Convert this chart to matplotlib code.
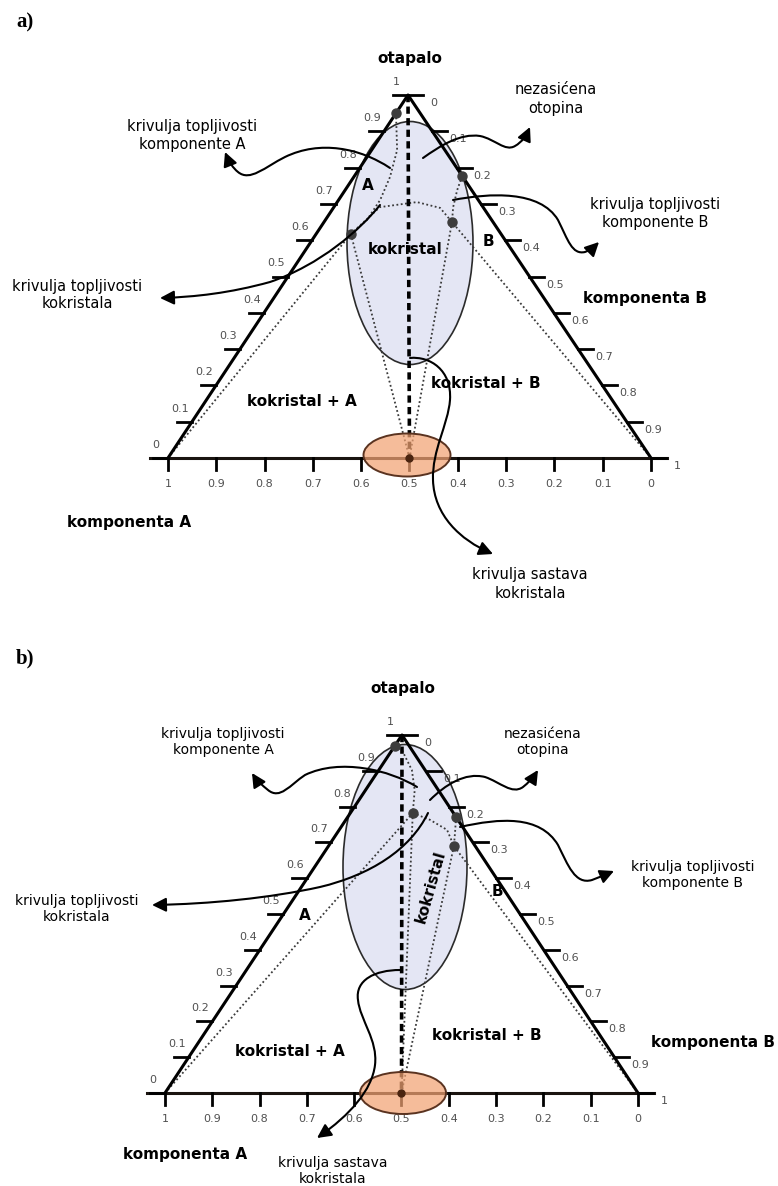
import numpy as np
import matplotlib.pyplot as plt
from matplotlib.patches import Ellipse, FancyArrowPatch
from matplotlib.path import Path

# ---- data: ternary diagram (solvent fraction s, fraction of B b) ----
tick_vals = [0, 0.1, 0.2, 0.3, 0.4, 0.5, 0.6, 0.7, 0.8, 0.9, 1]
left_labels = ['0', '0.1', '0.2', '0.3', '0.4', '0.5', '0.6', '0.7', '0.8', '0.9', '1']
right_labels = ['0', '0.1', '0.2', '0.3', '0.4', '0.5', '0.6', '0.7', '0.8', '0.9', '1']
bottom_labels = ['1', '0.9', '0.8', '0.7', '0.6', '0.5', '0.4', '0.3', '0.2', '0.1', '0']
cocrystal_b = 0.5

# panel a
a_curveA_s = [0.950, 0.848, 0.774, 0.711, 0.656, 0.617]
a_curveA_b = [0.000, 0.053, 0.075, 0.086, 0.086, 0.072]
a_curveB_s = [0.777, 0.738, 0.691, 0.650]
a_curveB_b = [0.223, 0.232, 0.247, 0.265]
a_arc_s = [0.617, 0.691, 0.705, 0.689, 0.650, 0.0]
a_arc_b = [0.072, 0.095, 0.165, 0.221, 0.265, 1.0]

# panel b
b_curveA_s = [0.969, 0.958, 0.902, 0.846, 0.782]
b_curveA_b = [0.000, 0.021, 0.070, 0.104, 0.132]
b_curveB_s = [0.771, 0.729, 0.690]
b_curveB_b = [0.229, 0.248, 0.265]
b_arc_s = [0.782, 0.763, 0.735, 0.690, 0.0]
b_arc_b = [0.132, 0.178, 0.228, 0.265, 1.0]

W, H = 778, 1186
fig = plt.figure(figsize=(W / 100, H / 100), dpi=100)
ax = fig.add_axes([0, 0, 1, 1])
ax.set_xlim(0, W)
ax.set_ylim(H, 0)
ax.axis('off')

PA = ((168, 458), (651, 458), (408, 95))
PB = ((165, 1093), (638, 1093), (402, 735))


def tern(P, s, b):
    L, R, T = P
    s = np.asarray(s, float)
    b = np.asarray(b, float)
    a = 1 - s - b
    return a * L[0] + b * R[0] + s * T[0], a * L[1] + b * R[1] + s * T[1]


DOT = dict(color='#3a3a3a', lw=1.3, ls=(0, (1, 1.4)), zorder=3)
TICK = dict(fontsize=8, color='#505050', ha='center', va='center')


def arrow(verts):
    codes = [Path.MOVETO] + [Path.CURVE4] * (len(verts) - 1)
    p = FancyArrowPatch(path=Path(verts, codes), arrowstyle='-|>,head_length=0.6,head_width=0.3',
                        mutation_scale=14, lw=1.5, color='black', zorder=6)
    ax.add_patch(p)


def panel(P, ell, orange, cA, cB, arc, lsize):
    L, R, T = P
    ax.add_patch(Ellipse(ell[:2], ell[2], ell[3], facecolor='#e4e6f4', edgecolor='#2b2b2b', lw=1.2, zorder=1))
    # triangle edges
    ax.plot([L[0], T[0], R[0]], [L[1], T[1], R[1]], color='black', lw=2.2, zorder=4, solid_capstyle='butt')
    ax.plot([L[0] - 18, R[0] + 16], [L[1], R[1]], color='#1a1410', lw=2.2, zorder=4)
    # ticks
    for v, lab in zip(tick_vals, left_labels):
        x, y = tern(P, v, 0)
        ax.plot([x - 15, x], [y, y], color='black', lw=2, zorder=4)
        ax.text(x - 12, y - 13, lab, **TICK)
    for v, lab in zip(tick_vals, right_labels):
        x, y = tern(P, 1 - v, v)
        ax.plot([x, x + 15], [y, y], color='black', lw=2, zorder=4)
        ax.text(x + 26, y + 8, lab, **TICK)
    for v, lab in zip(tick_vals, bottom_labels):
        x, y = tern(P, 0, v)
        ax.plot([x, x], [y, y + 12], color='black', lw=2, zorder=4)
        ax.text(x, y + 26, lab, **TICK)
    # dotted phase boundaries
    ax.plot(*tern(P, cA[0], cA[1]), **DOT)
    ax.plot(*tern(P, cB[0], cB[1]), **DOT)
    ax.plot(*tern(P, arc[0], arc[1]), **DOT)
    inv1 = (cA[0][-1], cA[1][-1])
    inv2 = (cB[0][-1], cB[1][-1])
    ax.plot(*tern(P, [0, inv1[0]], [0, inv1[1]]), **DOT)
    ax.plot(*tern(P, [inv1[0], 0], [inv1[1], cocrystal_b]), **DOT)
    ax.plot(*tern(P, [inv2[0], 0], [inv2[1], cocrystal_b]), **DOT)
    # cocrystal composition line (dashed)
    ax.plot(*tern(P, [1, 0], [0, cocrystal_b]), color='black', lw=2.6, ls=(0, (2, 1.2)), zorder=4)
    # invariant points
    ds = [cA[0][0], cB[0][0], inv1[0], inv2[0]]
    db = [cA[1][0], cB[1][0], inv1[1], inv2[1]]
    ax.plot(*tern(P, ds, db), 'o', color='#3d3d3d', ms=6.5, zorder=5)
    ax.add_patch(Ellipse(orange[:2], orange[2], orange[3], facecolor=(0.95, 0.64, 0.45, 0.72),
                         edgecolor='#5a3320', lw=1.4, zorder=5))
    ax.plot(*tern(P, 0, cocrystal_b), 'o', color='#4a2410', ms=5, zorder=6)


# ---------------- panel a ----------------
panel(PA, (410, 243, 126, 243), (407, 455, 87, 43),
      (a_curveA_s, a_curveA_b), (a_curveB_s, a_curveB_b), (a_arc_s, a_arc_b), 11)
ax.text(16, 22, 'a)', fontsize=15, fontweight='bold', family='Liberation Serif', va='center')
ax.text(410, 58, 'otapalo', fontsize=11, fontweight='bold', ha='center', va='center')
ax.text(405, 249, 'kokristal', fontsize=11, fontweight='bold', ha='center', va='center', zorder=6)
ax.text(368, 186, 'A', fontsize=11, fontweight='bold', ha='center', va='center')
ax.text(488, 242, 'B', fontsize=11, fontweight='bold', ha='center', va='center')
ax.text(302, 402, 'kokristal + A', fontsize=11, fontweight='bold', ha='center', va='center')
ax.text(486, 384, 'kokristal + B', fontsize=11, fontweight='bold', ha='center', va='center')
ax.text(645, 298, 'komponenta B', fontsize=11, fontweight='bold', ha='center', va='center')
ax.text(129, 523, 'komponenta A', fontsize=11, fontweight='bold', ha='center', va='center')
ax.text(192, 136, 'krivulja topljivosti\nkomponente A', fontsize=10.5, ha='center', va='center', linespacing=1.25)
ax.text(556, 99, 'nezasićena\notopina', fontsize=10.5, ha='center', va='center', linespacing=1.25)
ax.text(655, 214, 'krivulja topljivosti\nkomponente B', fontsize=10.5, ha='center', va='center', linespacing=1.25)
ax.text(77, 295, 'krivulja topljivosti\nkokristala', fontsize=10.5, ha='center', va='center', linespacing=1.25)
ax.text(530, 584, 'krivulja sastava\nkokristala', fontsize=10.5, ha='center', va='center', linespacing=1.25)

arrow([(390, 168), (360, 148), (320, 140), (285, 157), (265, 167), (250, 182), (238, 172),
       (233, 168), (229, 162), (225, 152)])
arrow([(423, 158), (440, 146), (460, 133), (480, 136), (495, 139), (505, 152), (515, 146),
       (522, 142), (526, 136), (530, 127)])
arrow([(453, 200), (490, 193), (540, 190), (558, 220), (568, 240), (572, 255), (585, 252),
       (590, 250), (594, 247), (599, 242)])
arrow([(380, 205), (360, 230), (320, 265), (270, 282), (230, 293), (195, 297), (160, 298)])
arrow([(410, 358), (430, 356), (452, 370), (450, 400), (448, 425), (432, 450), (433, 480),
       (434, 515), (460, 540), (493, 554)])

# ---------------- panel b ----------------
panel(PB, (405, 867, 124, 245), (403, 1093, 86, 42),
      (b_curveA_s, b_curveA_b), (b_curveB_s, b_curveB_b), (b_arc_s, b_arc_b), 10)
ax.text(16, 658, 'b)', fontsize=15, fontweight='bold', family='Liberation Serif', va='center')
ax.text(403, 688, 'otapalo', fontsize=11, fontweight='bold', ha='center', va='center')
ax.text(431, 887, 'kokristal', fontsize=11, fontweight='bold', ha='center', va='center', rotation=74, zorder=6)
ax.text(305, 915, 'A', fontsize=11, fontweight='bold', ha='center', va='center')
ax.text(497, 892, 'B', fontsize=11, fontweight='bold', ha='center', va='center')
ax.text(290, 1052, 'kokristal + A', fontsize=11, fontweight='bold', ha='center', va='center')
ax.text(487, 1035, 'kokristal + B', fontsize=11, fontweight='bold', ha='center', va='center')
ax.text(713, 1043, 'komponenta B', fontsize=11, fontweight='bold', ha='center', va='center')
ax.text(185, 1155, 'komponenta A', fontsize=11, fontweight='bold', ha='center', va='center')
ax.text(223, 742, 'krivulja topljivosti\nkomponente A', fontsize=10, ha='center', va='center', linespacing=1.25)
ax.text(543, 742, 'nezasićena\notopina', fontsize=10, ha='center', va='center', linespacing=1.25)
ax.text(693, 875, 'krivulja topljivosti\nkomponente B', fontsize=10, ha='center', va='center', linespacing=1.25)
ax.text(77, 909, 'krivulja topljivosti\nkokristala', fontsize=10, ha='center', va='center', linespacing=1.25)
ax.text(333, 1171, 'krivulja sastava\nkokristala', fontsize=10, ha='center', va='center', linespacing=1.2)

arrow([(417, 787), (390, 770), (340, 758), (305, 775), (290, 785), (280, 800), (268, 790),
       (262, 785), (257, 781), (252, 773)])
arrow([(430, 800), (445, 785), (465, 772), (485, 777), (500, 782), (512, 795), (523, 787),
       (528, 783), (533, 778), (538, 770)])
arrow([(460, 827), (500, 818), (540, 815), (558, 845), (568, 865), (575, 885), (592, 880),
       (600, 877), (607, 874), (614, 871)])
arrow([(428, 813), (410, 850), (370, 875), (320, 887), (270, 898), (210, 904), (152, 905)])
arrow([(400, 970), (375, 970), (355, 980), (358, 1000), (360, 1020), (378, 1040), (375, 1065),
       (372, 1090), (350, 1115), (317, 1138)])

fig.savefig('out.png', dpi=100)
